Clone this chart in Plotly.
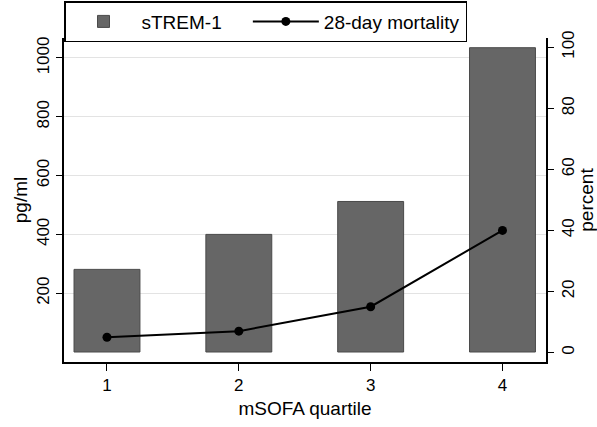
import plotly.graph_objects as go

quartiles = [1, 2, 3, 4]
strem1 = [281, 400, 512, 1035]
mortality = [5, 7, 15, 40]
left_ticks = [200, 400, 600, 800, 1000]
right_ticks = [0, 20, 40, 60, 80, 100]

font = "Liberation Sans, Arial, sans-serif"
pad = "\u00a0" * 4

fig = go.Figure()
fig.add_trace(go.Bar(
    x=quartiles, y=strem1, name="sTREM-1" + pad, width=0.5,
    marker=dict(color="#666666", line=dict(color="#4a4a4a", width=1)),
    yaxis="y",
))
fig.add_trace(go.Scatter(
    x=quartiles, y=mortality, name="28-day mortality", mode="lines+markers",
    line=dict(color="black", width=2), marker=dict(color="black", size=9),
    yaxis="y2",
))

fig.update_layout(
    width=597, height=427,
    margin=dict(l=64, r=51, t=38, b=65, autoexpand=False),
    paper_bgcolor="white", plot_bgcolor="white",
    font=dict(family=font, size=17, color="black"),
    showlegend=True,
    legend=dict(
        orientation="h", x=0.0, xanchor="left", y=1.114, yanchor="top",
        bordercolor="black", borderwidth=1.5, font=dict(size=19),
        itemwidth=66, traceorder="normal",
    ),
    xaxis=dict(
        range=[0.674, 4.33], tickvals=quartiles, showgrid=False, zeroline=False,
        showline=True, linecolor="black", linewidth=1.5,
        ticks="outside", ticklen=7, tickcolor="black",
        title=dict(text="mSOFA quartile", font=dict(size=19), standoff=8),
        tickfont=dict(size=17), automargin=False,
    ),
    yaxis=dict(
        range=[-34, 1068], tickvals=left_ticks, showgrid=True, gridcolor="#e3e3e3",
        zeroline=False, showline=True, linecolor="black", linewidth=1.5,
        ticks="outside", ticklen=6, tickcolor="black", tickangle=-90,
        title=dict(text="pg/ml", font=dict(size=19), standoff=2),
        tickfont=dict(size=17), automargin=False,
    ),
    yaxis2=dict(
        range=[-3.1, 103], tickvals=right_ticks, overlaying="y", side="right",
        showgrid=False, zeroline=False, showline=True, linecolor="black", linewidth=1.5,
        ticks="outside", ticklen=6, tickcolor="black", tickangle=-90,
        title=dict(text="percent", font=dict(size=19), standoff=0),
        tickfont=dict(size=17), automargin=False,
    ),
)

fig.write_html("out.html", config={"displayModeBar": False},
               post_script="document.body.style.margin='0';")
